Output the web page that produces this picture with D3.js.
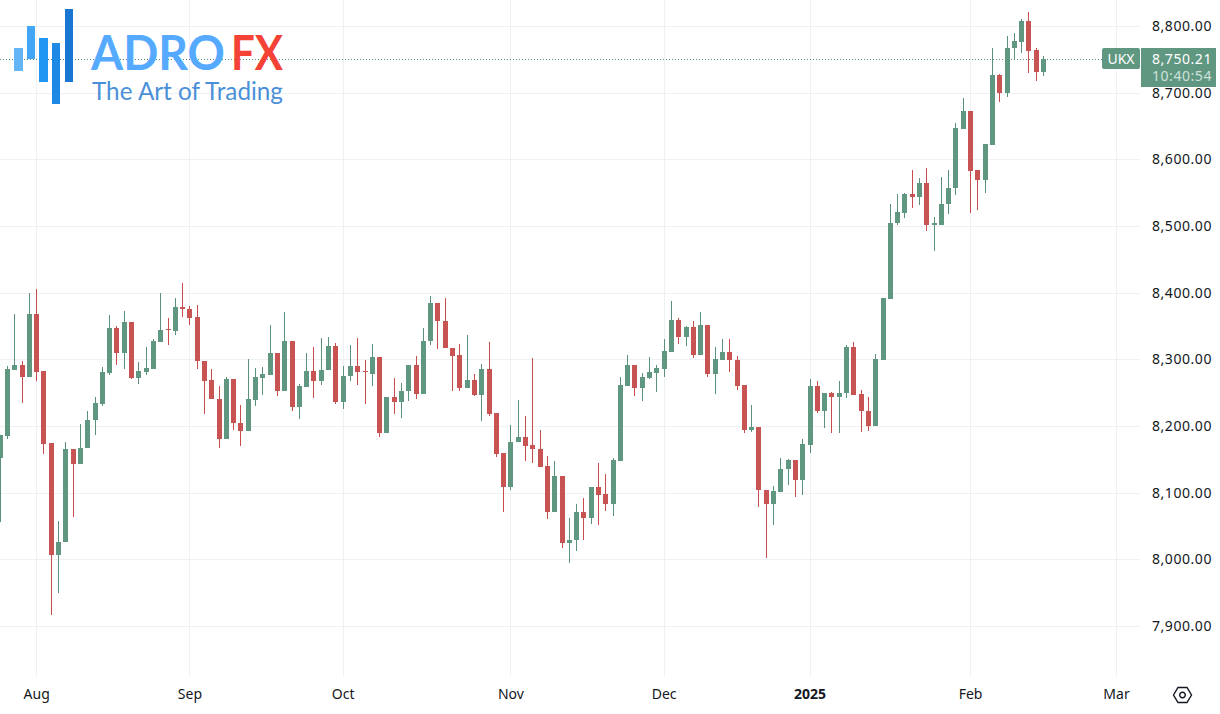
<!DOCTYPE html>
<html lang="en">
<head>
  <meta charset="UTF-8">
  <title>UKX daily candles</title>
  <style>
    * { margin: 0; padding: 0; box-sizing: border-box; }
    html, body { background: #fff; overflow: hidden; }
    svg { display: block; }
    .axis text { font-family: "Noto Sans", sans-serif; font-size: 14px; fill: #131722; }
    .axis.price text { letter-spacing: 0.55px; }
    .axis path { display: none; }
    .grid line { stroke: #eff0f2; stroke-width: 1; shape-rendering: crispEdges; }
    .wick { stroke-width: 1; shape-rendering: crispEdges; }
    .body { shape-rendering: crispEdges; }
  </style>
  <script src="https://cdn.jsdelivr.net/npm/d3@7/dist/d3.min.js"></script>
</head>
<body>
  <svg id="chart" width="1220" height="714"></svg>

  <script>
    // daily bars, first one is cut by the left edge
    const opens = [
      8152.5, 8185.5, 8284.5, 8291.5, 8273, 8367.5, 8282.5, 8174.5, 8006.5, 8025.5, 8165.5, 8143.5,
      8167.5, 8209.5, 8233.5, 8280, 8346.5, 8310, 8356, 8272, 8281, 8286, 8326, 8345,
      8342.5, 8378, 8375.5, 8363.5, 8297.5, 8269, 8241, 8180.5, 8270.5, 8204.5, 8193, 8239,
      8272, 8276.5, 8309.5, 8252, 8328, 8228.5, 8259, 8282.5, 8268, 8284, 8320, 8236,
      8275.5, 8290, 8282.5, 8278, 8303.5, 8189, 8243.5, 8236, 8252.5, 8291.5, 8248, 8328,
      8384.5, 8357.5, 8317.5, 8306.5, 8257, 8269, 8246.5, 8285.5, 8219.5, 8159.5, 8108.5, 8175.5,
      8183.5, 8171.5, 8165.5, 8140, 8070.5, 8125, 8024.5, 8029, 8070.5, 8062, 8108.5, 8098,
      8083.5, 8147.5, 8260, 8291, 8257, 8272.5, 8279.5, 8285.5, 8311, 8359, 8333.5, 8348.5,
      8307, 8351.5, 8278, 8299, 8311, 8299, 8261.5, 8193.5, 8198.5, 8104, 8083, 8101,
      8135.5, 8149, 8119, 8171.5, 8260, 8222.5, 8249.5, 8243.5, 8249.5, 8318.5, 8248, 8223,
      8200, 8299.5, 8391, 8504, 8520, 8548, 8544, 8564.5, 8501.5, 8501.5, 8533, 8557,
      8645.5, 8673, 8583.5, 8569, 8621.5, 8726.5, 8699.5, 8767, 8776, 8807, 8764, 8731
    ];
    const highs = [
      8186.5, 8290, 8367.5, 8297.5, 8399, 8405, 8282.5, 8174.5, 8057.5, 8175.5, 8165.5, 8203,
      8223, 8244, 8288, 8366.5, 8350, 8373, 8356, 8296, 8318, 8330.5, 8399, 8361.5,
      8392, 8414, 8380, 8381, 8297.5, 8285.5, 8260, 8273, 8270.5, 8231.5, 8300.5, 8287,
      8289, 8351.5, 8309.5, 8370.5, 8328, 8263, 8309.5, 8318, 8331.5, 8333.5, 8324, 8289.5,
      8321.5, 8331.5, 8299.5, 8323, 8303.5, 8243.5, 8272, 8265, 8291.5, 8305, 8346.5, 8395,
      8384.5, 8391.5, 8317.5, 8323, 8336.5, 8278, 8293, 8325.5, 8219.5, 8159.5, 8202, 8239,
      8215, 8301.5, 8194, 8155, 8147.5, 8125, 8062, 8083, 8091.5, 8108.5, 8144.5, 8128,
      8152, 8273.5, 8306.5, 8291, 8279.5, 8303.5, 8291.5, 8331, 8387.5, 8362, 8350, 8357,
      8371, 8351.5, 8318.5, 8330.5, 8330.5, 8305, 8261.5, 8231, 8198.5, 8104, 8110, 8152,
      8151, 8149, 8180.5, 8270.5, 8267.5, 8249.5, 8251, 8267.5, 8321.5, 8326, 8254, 8243.5,
      8307.5, 8391.5, 8533, 8548, 8549, 8584, 8572, 8586.5, 8513.5, 8573, 8583.5, 8654.5,
      8692, 8673, 8583.5, 8623, 8767, 8728, 8785, 8789, 8810.5, 8820.5, 8767, 8755
    ];
    const lows = [
      8055.5, 8181, 8284.5, 8235, 8273, 8268, 8157.5, 7916, 7949.5, 8025.5, 8064, 8143.5,
      8167.5, 8187, 8230.5, 8277, 8291.5, 8286, 8270, 8262.5, 8276.5, 8286, 8326, 8322,
      8336, 8364, 8352, 8286, 8218, 8241, 8167.5, 8180.5, 8194, 8170, 8193, 8230,
      8247, 8276.5, 8245, 8252, 8223, 8210, 8259, 8242.5, 8261.5, 8284, 8233.5, 8225.5,
      8267.5, 8261.5, 8233.5, 8260, 8184, 8189, 8217.5, 8212, 8237.5, 8241, 8248, 8321.5,
      8315, 8317, 8252, 8252, 8257, 8245, 8207.5, 8215, 8153.5, 8071, 8104, 8175.5,
      8147.5, 8144, 8139, 8060, 8070.5, 8017.5, 7995, 8012.5, 8029, 8053.5, 8051.5, 8073,
      8065, 8147.5, 8260, 8245, 8237.5, 8270.5, 8251.5, 8273.5, 8311, 8322.5, 8320, 8302,
      8307, 8273.5, 8248, 8299, 8281, 8254, 8189.5, 8191, 8078, 8002, 8051.5, 8101,
      8111.5, 8093.5, 8096.5, 8159.5, 8219.5, 8196.5, 8189.5, 8189, 8242, 8246.5, 8191.5, 8192.5,
      8200, 8299.5, 8391, 8501.5, 8512.5, 8527, 8531.5, 8493, 8462.5, 8501.5, 8518, 8546.5,
      8645.5, 8519.5, 8524, 8549.5, 8621.5, 8686, 8693.5, 8749, 8759.5, 8729.5, 8717.5, 8725
    ];
    const closes = [
      8186.5, 8285.5, 8291.5, 8273, 8367.5, 8281.5, 8173.5, 8006.5, 8026, 8165.5, 8143.5, 8167.5,
      8209.5, 8234.5, 8281, 8346.5, 8310, 8356, 8272, 8282.5, 8287, 8327.5, 8344, 8344,
      8378.5, 8375.5, 8362.5, 8297, 8268, 8241, 8180.5, 8270.5, 8204.5, 8193, 8240.5, 8273,
      8278, 8309.5, 8252, 8328, 8228.5, 8260, 8282.5, 8268, 8284, 8320, 8236, 8275.5,
      8290, 8281, 8281.5, 8303.5, 8189, 8243.5, 8236, 8252.5, 8291.5, 8248, 8328, 8384.5,
      8357.5, 8317, 8305, 8257, 8269, 8246.5, 8285.5, 8218, 8158, 8108.5, 8176, 8183.5,
      8170.5, 8165, 8139, 8070.5, 8125, 8024.5, 8029, 8070.5, 8062, 8108.5, 8097, 8083.5,
      8149, 8261.5, 8291, 8257, 8273.5, 8280.5, 8286.5, 8312.5, 8359, 8333.5, 8348.5, 8307,
      8351.5, 8278, 8300.5, 8311, 8299, 8260, 8193.5, 8198.5, 8104, 8083, 8102, 8136,
      8149, 8119, 8173, 8260, 8222.5, 8249.5, 8243.5, 8249.5, 8318.5, 8246.5, 8223, 8200,
      8300.5, 8391.5, 8505, 8520.5, 8548, 8544, 8564.5, 8501.5, 8504, 8533, 8557, 8646.5,
      8673, 8582.5, 8569, 8623, 8726.5, 8699.5, 8767, 8777.5, 8807, 8762.5, 8731, 8750
    ];

    const priceTicks = [7900, 8000, 8100, 8200, 8300, 8400, 8500, 8600, 8700, 8800];
    const monthBars = [5, 26, 47, 70, 91, 111, 133, 153]; // bar index where each month starts
    const monthLabels = ['Aug', 'Sep', 'Oct', 'Nov', 'Dec', '2025', 'Feb', 'Mar'];

    const lastPrice = 8750.21;
    const symbol = 'UKX';
    const countdown = '10:40:54';

    const green = '#5f9781', greenWick = '#5a917b';
    const red = '#c75353', redWick = '#c84c4c';

    const svg = d3.select('#chart');
    const paneRight = 1140, paneBottom = 676;

    const x = d3.scaleLinear().domain([0, 153]).range([-0.28, 1116]);
    const y = d3.scaleLinear().domain([7900, 8800]).range([626, 26]);

    // grid
    const grid = svg.append('g').attr('class', 'grid');
    grid.selectAll('.h').data(priceTicks).join('line').attr('class', 'h')
      .attr('x1', 0).attr('x2', paneRight)
      .attr('y1', d => Math.round(y(d)) + 0.5).attr('y2', d => Math.round(y(d)) + 0.5);
    grid.selectAll('.v').data(monthBars).join('line').attr('class', 'v')
      .attr('y1', 0).attr('y2', paneBottom)
      .attr('x1', d => Math.round(x(d)) + 0.5).attr('x2', d => Math.round(x(d)) + 0.5);

    // last price line
    svg.append('line')
      .attr('x1', 0).attr('x2', 1102)
      .attr('y1', Math.round(y(lastPrice)) + 0.5).attr('y2', Math.round(y(lastPrice)) + 0.5)
      .attr('stroke', '#4f8a74').attr('stroke-width', 1).attr('stroke-dasharray', '1 2');

    // candles
    const bars = d3.range(opens.length).map(i => ({
      i, o: opens[i], h: highs[i], l: lows[i], c: closes[i], up: closes[i] >= opens[i]
    }));
    const candle = svg.append('g').selectAll('g').data(bars).join('g');
    candle.append('line').attr('class', 'wick')
      .attr('x1', d => Math.round(x(d.i)) + 0.5).attr('x2', d => Math.round(x(d.i)) + 0.5)
      .attr('y1', d => y(d.h)).attr('y2', d => y(d.l))
      .attr('stroke', d => d.up ? greenWick : redWick);
    candle.append('rect').attr('class', 'body')
      .attr('x', d => Math.round(x(d.i)) - 2).attr('width', 5)
      .attr('y', d => y(Math.max(d.o, d.c)))
      .attr('height', d => Math.max(1, Math.abs(y(d.o) - y(d.c))))
      .attr('fill', d => d.up ? green : red);

    // axes
    svg.append('g').attr('class', 'axis price')
      .attr('transform', `translate(${paneRight},0)`)
      .call(d3.axisRight(y).tickValues(priceTicks).tickSize(0).tickPadding(12).tickFormat(d3.format(',.2f')));
    const xAxis = svg.append('g').attr('class', 'axis')
      .attr('transform', `translate(0,${paneBottom + 13})`)
      .call(d3.axisBottom(x).tickValues(monthBars).tickSize(0).tickPadding(0)
        .tickFormat((d, i) => monthLabels[i]));
    xAxis.selectAll('text').style('font-weight', (d, i) => monthLabels[i] === '2025' ? 700 : 400);

    // price tags
    const yLast = Math.round(y(lastPrice));
    svg.append('rect').attr('x', 1102).attr('y', yLast - 11).attr('width', 38).attr('height', 21)
      .attr('rx', 2).attr('fill', green);
    svg.append('text').attr('x', 1121).attr('y', yLast + 5).attr('text-anchor', 'middle')
      .attr('font-family', '"Noto Sans", sans-serif').attr('font-size', 14).attr('fill', '#fff').text(symbol);
    svg.append('rect').attr('x', 1141).attr('y', yLast - 11).attr('width', 75).attr('height', 39)
      .attr('fill', green);
    svg.append('text').attr('x', 1152).attr('y', yLast + 5).attr('font-family', '"Noto Sans", sans-serif')
      .attr('font-size', 14).attr('letter-spacing', 0.55).attr('fill', '#fff').text(d3.format(',.2f')(lastPrice));
    svg.append('text').attr('x', 1152).attr('y', yLast + 22).attr('font-family', '"Noto Sans", sans-serif')
      .attr('font-size', 14).attr('letter-spacing', 0.55).attr('fill', '#cfe0d9').text(countdown);

    // settings icon
    const gear = svg.append('g').attr('transform', 'translate(1182.5,695)');
    gear.append('path').attr('d', 'M-9 0L-4.5 -7.5H4.5L9 0L4.5 7.5H-4.5Z')
      .attr('fill', 'none').attr('stroke', '#131722').attr('stroke-width', 1.4);
    gear.append('circle').attr('r', 2.8)
      .attr('fill', 'none').attr('stroke', '#131722').attr('stroke-width', 1.4);

    // logo, drawn last so it sits over the grid
    const logo = svg.append('g');
    const logoBars = [
      { x: 14, y: 48, w: 9, h: 23, fill: '#64b5f6' },
      { x: 27, y: 26, w: 8, h: 33, fill: '#42a5f5' },
      { x: 39, y: 38, w: 9, h: 44, fill: '#2196f3' },
      { x: 52, y: 43, w: 8, h: 61, fill: '#1e88e5' },
      { x: 65, y: 9, w: 8, h: 73, fill: '#1976d2' }
    ];
    logo.selectAll('rect').data(logoBars).join('rect')
      .attr('x', d => d.x).attr('y', d => d.y).attr('width', d => d.w).attr('height', d => d.h)
      .attr('fill', d => d.fill);
    logo.append('text').attr('x', 91).attr('y', 70)
      .attr('font-family', 'Lato, sans-serif').attr('font-weight', 700).attr('font-size', 47)
      .attr('textLength', 134).attr('lengthAdjust', 'spacingAndGlyphs')
      .attr('fill', '#55aaff').text('ADRO');
    logo.append('text').attr('x', 231).attr('y', 70)
      .attr('font-family', 'Lato, sans-serif').attr('font-weight', 700).attr('font-size', 47)
      .attr('textLength', 52).attr('lengthAdjust', 'spacingAndGlyphs')
      .attr('fill', '#f44336').text('FX');
    logo.append('text').attr('x', 92).attr('y', 100)
      .attr('font-family', 'Lato, sans-serif').attr('font-weight', 400).attr('font-size', 25)
      .attr('textLength', 191).attr('lengthAdjust', 'spacingAndGlyphs')
      .attr('fill', '#4a90d9').text('The Art of Trading');
  </script>
</body>
</html>
